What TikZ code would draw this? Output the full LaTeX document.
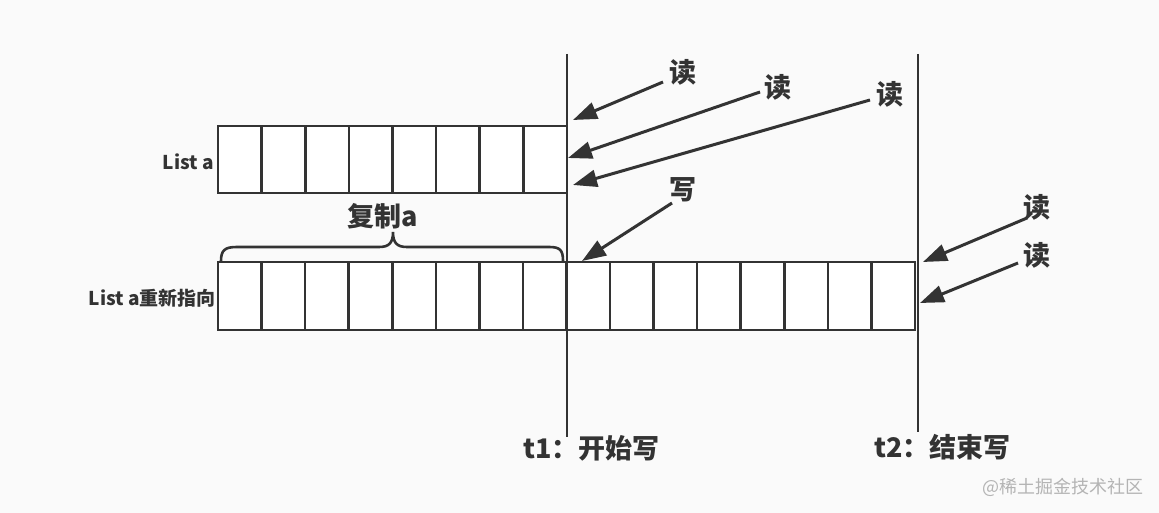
\documentclass[tikz,border=0pt]{standalone}
\usepackage{fontspec}
\newfontfamily\cjk{Noto Sans CJK SC}
\usetikzlibrary{arrows.meta}
\definecolor{ink}{HTML}{333333}
\definecolor{bg}{HTML}{FAFAFA}
\definecolor{wm}{HTML}{B4B4B4}
\tikzset{
  cell/.style={draw=ink, line width=2.6pt, fill=white},
  tline/.style={draw=ink, line width=2.6pt},
  ptr/.style={draw=ink, line width=3pt, -{Triangle[length=24pt,width=17pt]}},
  big/.style={text=ink, font=\cjk\bfseries\fontsize{27}{31}\selectfont, inner sep=0pt},
  small/.style={text=ink, font=\cjk\bfseries\fontsize{19}{22}\selectfont, inner sep=0pt},
  wmark/.style={text=wm, font=\cjk\fontsize{18}{21}\selectfont, inner sep=0pt}
}
\begin{document}
\begin{tikzpicture}[x=1pt,y=-1pt]
\useasboundingbox[fill=bg] (0,0) rectangle (1159,513);
% upper list
\foreach \i in {0,...,7}{
  \draw[cell] ({218+\i*43.625},126) rectangle ({218+(\i+1)*43.625},193);
}
% lower list
\foreach \i in {0,...,15}{
  \draw[cell] ({218+\i*43.5625},262) rectangle ({218+(\i+1)*43.5625},330);
}
% time lines
\coordinate (t1top) at (567,54);
\coordinate (t1bot) at (567,437);
\coordinate (t2top) at (918,54);
\coordinate (t2bot) at (918,432);
\draw[tline] (t1top) -- (t1bot);
\draw[tline] (t2top) -- (t2bot);
% brace
\draw[ink, line width=2.6pt, line cap=round]
  (221,261) .. controls (221,250) and (225,247) .. (237,247) -- (379,247)
  .. controls (389,247) and (393,243) .. (393,232)
  .. controls (393,243) and (397,247) .. (407,247) -- (549,247)
  .. controls (560,247) and (563,250) .. (563,261);
% labels
\node[small, anchor=east] (la) at (214,162) {List a};
\node[small, anchor=east] (lb) at (216,298) {List a重新指向};
\node[big] (copy) at (383,216) {复制a};
\node[big] (r1) at (683,72) {读};
\node[big] (r2) at (778,87) {读};
\node[big] (r3) at (890,94) {读};
\node[big] (w1) at (683,190) {写};
\node[big] (r4) at (1037,207) {读};
\node[big] (r5) at (1037,255) {读};
\node[big, anchor=west] (t1) at (523,448) {t1：开始写};
\node[big, anchor=west] (t2) at (874,447) {t2：结束写};
\node[wmark, anchor=east] (wmk) at (1144,487) {@稀土掘金技术社区};
% arrows
\coordinate (s1) at (663,82);  \coordinate (e1) at (573,120);
\coordinate (s2) at (760,92);  \coordinate (e2) at (568,158);
\coordinate (s3) at (870,100); \coordinate (e3) at (573,185);
\coordinate (s4) at (672,203); \coordinate (e4) at (582,261);
\coordinate (s5) at (1027,218); \coordinate (e5) at (923,262);
\coordinate (s6) at (1018,263); \coordinate (e6) at (920,303);
\draw[ptr] (s1) -- (e1);
\draw[ptr] (s2) -- (e2);
\draw[ptr] (s3) -- (e3);
\draw[ptr] (s4) -- (e4);
\draw[ptr] (s5) -- (e5);
\draw[ptr] (s6) -- (e6);
\end{tikzpicture}
\end{document}
